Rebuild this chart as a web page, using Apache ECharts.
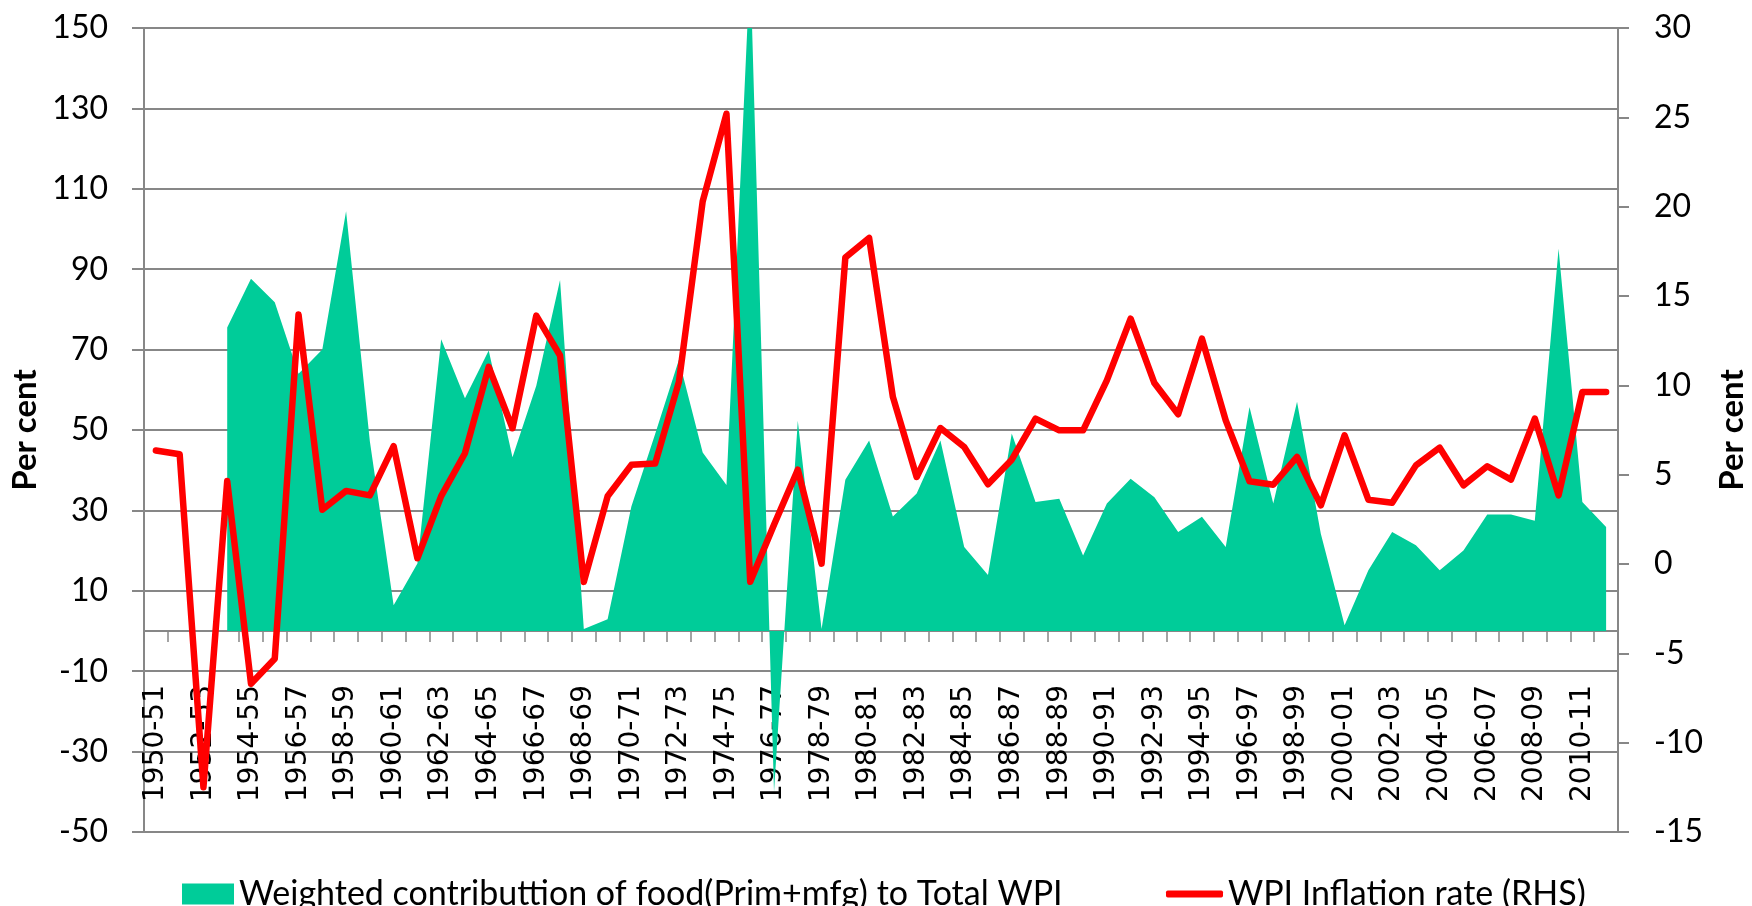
<!DOCTYPE html>
<html>
<head>
<meta charset="utf-8">
<script src="https://cdn.jsdelivr.net/npm/echarts@6/dist/echarts.min.js"></script>
<style>
  html, body { margin: 0; padding: 0; background: #fff; }
  #chart { width: 1752px; height: 906px; }
</style>
</head>
<body>
<div id="chart"></div>
<script>
// categories (financial years)
const years = ['1950-51', '1951-52', '1952-53', '1953-54', '1954-55', '1955-56', '1956-57', '1957-58', '1958-59', '1959-60',
    '1960-61', '1961-62', '1962-63', '1963-64', '1964-65', '1965-66', '1966-67', '1967-68', '1968-69', '1969-70',
    '1970-71', '1971-72', '1972-73', '1973-74', '1974-75', '1975-76', '1976-77', '1977-78', '1978-79', '1979-80',
    '1980-81', '1981-82', '1982-83', '1983-84', '1984-85', '1985-86', '1986-87', '1987-88', '1988-89', '1989-90',
    '1990-91', '1991-92', '1992-93', '1993-94', '1994-95', '1995-96', '1996-97', '1997-98', '1998-99', '1999-00',
    '2000-01', '2001-02', '2002-03', '2003-04', '2004-05', '2005-06', '2006-07', '2007-08', '2008-09', '2009-10',
    '2010-11', '2011-12'];

// weighted contribution of food (LHS, per cent)
const foodContribution = [null, null, null, 75.5, 87.6, 81.8, 64, 70, 104.4, 47.2,
    6.4, 16.8, 72.6, 57.9, 69.8, 43.2, 61, 87.3, 0.5, 2.9,
    31, 49, 67.5, 44.4, 36.3, 166, -40, 52.3, 0.5, 37.6,
    47.4, 28.5, 34.2, 47.4, 20.9, 13.9, 49.1, 32.1, 32.9, 18.8,
    31.7, 37.9, 33.3, 24.6, 28.4, 20.9, 55.7, 31.7, 57, 24.2,
    1.4, 15.1, 24.6, 21.3, 15.1, 20, 29, 29, 27.4, 95.1,
    32.1, 25.9];

// WPI inflation rate (RHS, per cent)
const wpiInflation = [6.35, 6.14, -12.5, 4.64, -6.7, -5.3, 13.96, 3.04, 4.09, 3.84,
    6.6, 0.32, 3.8, 6.2, 11.03, 7.6, 13.9, 11.67, -1.0, 3.79,
    5.55, 5.62, 10.19, 20.3, 25.2, -1.0, 2.2, 5.28, 0.02, 17.16,
    18.25, 9.35, 4.87, 7.61, 6.55, 4.46, 5.84, 8.14, 7.48, 7.48,
    10.28, 13.73, 10.13, 8.38, 12.61, 8.04, 4.63, 4.44, 5.99, 3.28,
    7.2, 3.6, 3.43, 5.52, 6.51, 4.4, 5.47, 4.72, 8.14, 3.84,
    9.63, 9.63];

const foodName = 'Weighted contributtion of food(Prim+mfg) to Total WPI';
const wpiName = 'WPI Inflation rate (RHS)';

const gray = '#878787';
const font = 'Lato';

const chart = echarts.init(document.getElementById('chart'));

const option = {
    animation: false,
    grid: {
        left: 144,
        right: 134,
        top: 28,
        bottom: 74,
        containLabel: false,
        outerBoundsMode: 'none'
    },
    legend: [{
        data: [{ name: foodName, icon: 'rect' }],
        left: 177,
        top: 872,
        itemWidth: 52,
        itemHeight: 21,
        itemStyle: { borderWidth: 0 },
        textStyle: { fontFamily: font, fontSize: 34, color: '#000' }
    }, {
        data: [{ name: wpiName, icon: 'roundRect' }],
        left: 1161,
        top: 872,
        itemWidth: 57,
        itemHeight: 7,
        itemStyle: { borderWidth: 0 },
        textStyle: { fontFamily: font, fontSize: 34, color: '#000' }
    }],
    xAxis: {
        type: 'category',
        data: years,
        boundaryGap: true,
        axisLine: {
            onZero: true,
            onZeroAxisIndex: 0,
            lineStyle: { color: gray, width: 2 }
        },
        axisTick: {
            show: true,
            interval: 0,
            length: 11,
            lineStyle: { color: gray, width: 1.5 }
        },
        // labels sit inside the plot, below the zero line
        axisLabel: {
            interval: 1,
            rotate: 90,
            inside: true,
            margin: 30,
            fontFamily: 'DejaVu Sans',
            fontSize: 28,
            color: '#000'
        }
    },
    yAxis: [{
        type: 'value',
        min: -50,
        max: 150,
        interval: 20,
        name: 'Per cent',
        nameLocation: 'middle',
        nameRotate: 90,
        nameGap: 100,
        nameTextStyle: { fontFamily: font, fontSize: 33, fontWeight: 'bold', color: '#000' },
        axisLine: { show: true, lineStyle: { color: gray, width: 2 } },
        axisTick: { show: true, length: 12, lineStyle: { color: gray, width: 2 } },
        axisLabel: { margin: 36, fontFamily: font, fontSize: 32, color: '#000' },
        splitLine: { show: true, lineStyle: { color: gray, width: 2 } }
    }, {
        type: 'value',
        min: -15,
        max: 30,
        interval: 5,
        position: 'right',
        name: 'Per cent',
        nameLocation: 'middle',
        nameRotate: 90,
        nameGap: 98,
        nameTextStyle: { fontFamily: font, fontSize: 33, fontWeight: 'bold', color: '#000' },
        axisLine: { show: true, lineStyle: { color: gray, width: 2 } },
        axisTick: { show: true, length: 11, lineStyle: { color: gray, width: 2 } },
        axisLabel: { margin: 36, fontFamily: font, fontSize: 32, color: '#000' },
        splitLine: { show: false }
    }],
    series: [{
        name: foodName,
        type: 'line',
        yAxisIndex: 0,
        data: foodContribution,
        symbol: 'none',
        connectNulls: false,
        lineStyle: { width: 0 },
        itemStyle: { color: '#00CC99' },
        areaStyle: { color: '#00CC99', opacity: 1, origin: 'auto' }
    }, {
        name: wpiName,
        type: 'line',
        yAxisIndex: 1,
        data: wpiInflation,
        symbol: 'none',
        itemStyle: { color: '#FF0000' },
        lineStyle: { color: '#FF0000', width: 6.5, cap: 'round', join: 'round' }
    }]
};

chart.setOption(option);
</script>
</body>
</html>
